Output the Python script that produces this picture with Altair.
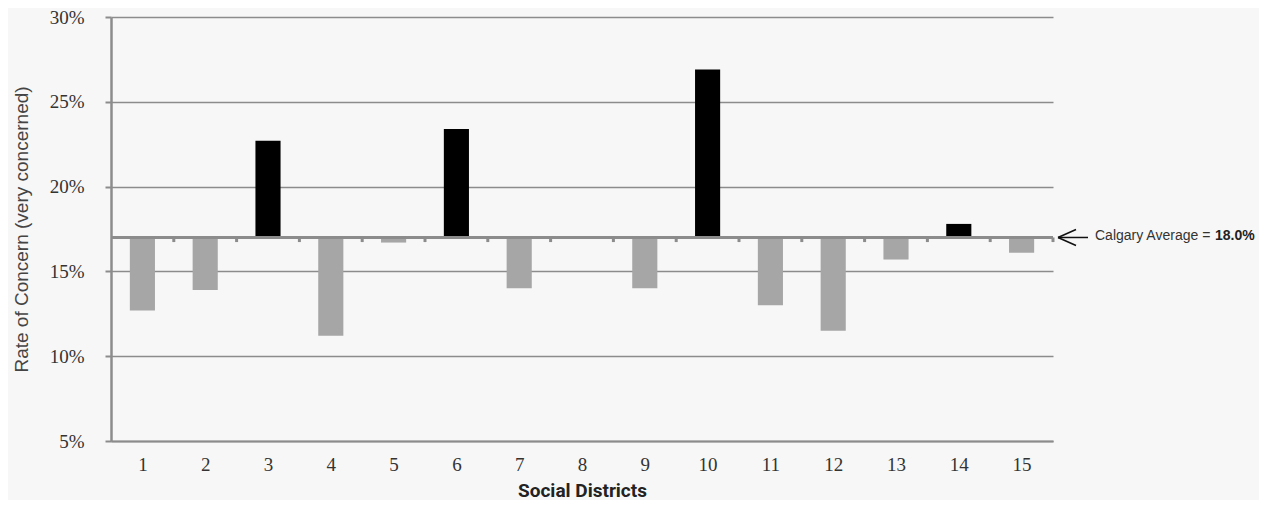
import altair as alt
import pandas as pd

districts = list(range(1, 16))
rates = [12.7, 13.9, 22.7, 11.2, 16.7, 23.4, 14.0, 17.0, 14.0, 26.9, 13.0, 11.5, 15.7, 17.8, 16.1]
baseline_value = 17.0
average_text = "Calgary Average ="
average_label = "18.0%"
y_ticks = [5, 10, 15, 20, 25, 30]

df = pd.DataFrame({"district": districts, "rate": rates})
df["above"] = df["rate"] > baseline_value
bounds = pd.DataFrame({"b": [d + 0.5 for d in districts]})
one = pd.DataFrame({"k": [0]})

x_scale = alt.Scale(domain=[0.5, 15.5], nice=False, zero=False)
y_scale = alt.Scale(domain=[5, 30], nice=False, zero=False)

x_axis = alt.Axis(
    title="Social Districts", values=districts, format="d", ticks=False, grid=False,
    labelFont="Liberation Serif", labelFontSize=19, labelColor="#333333", labelPadding=14,
    domainColor="#8c8c8c", domainWidth=2,
    titleFont="Roboto", titleFontWeight="bold", titleFontSize=19,
    titleColor="#222222", titlePadding=7,
)
y_axis = alt.Axis(
    title="Rate of Concern (very concerned)", values=y_ticks,
    labelExpr="datum.value + '%'",
    labelFont="Liberation Serif", labelFontSize=19, labelColor="#333333", labelPadding=21,
    tickSize=6, tickColor="#8c8c8c", tickWidth=2,
    grid=True, gridColor="#8c8c8c", gridWidth=1.5,
    domainColor="#8c8c8c", domainWidth=2.5,
    titleFont="Liberation Sans", titleFontSize=19, titleFontWeight="normal",
    titleColor="#444444", titlePadding=18,
)

bars = alt.Chart(df).transform_calculate(
    x0="datum.district - 0.2", x1="datum.district + 0.2"
).mark_bar().encode(
    x=alt.X("x0:Q", scale=x_scale, axis=x_axis),
    x2="x1:Q",
    y=alt.Y("rate:Q", scale=y_scale, axis=y_axis),
    y2=alt.datum(baseline_value),
    color=alt.condition("datum.above", alt.value("#000000"), alt.value("#a6a6a6")),
)

base_rule = alt.Chart(one).mark_rule(color="#8c8c8c", strokeWidth=3).encode(
    x=alt.datum(0.5, scale=x_scale), x2=alt.datum(15.5),
    y=alt.datum(baseline_value, scale=y_scale),
)

ticks = alt.Chart(bounds).mark_rule(color="#8c8c8c", strokeWidth=3).encode(
    x=alt.X("b:Q", scale=x_scale),
    y=alt.datum(baseline_value, scale=y_scale),
    y2=alt.datum(baseline_value - 0.27),
)

arrow_shaft = alt.Chart(one).mark_rule(color="#111111", strokeWidth=1.5, xOffset=5, x2Offset=35).encode(
    x=alt.datum(15.5, scale=x_scale), x2=alt.datum(15.5),
    y=alt.datum(baseline_value, scale=y_scale),
)
arrow_up = alt.Chart(one).mark_rule(color="#111111", strokeWidth=1.5, xOffset=5, x2Offset=23, y2Offset=-8).encode(
    x=alt.datum(15.5, scale=x_scale), x2=alt.datum(15.5),
    y=alt.datum(baseline_value, scale=y_scale), y2=alt.datum(baseline_value),
)
arrow_dn = alt.Chart(one).mark_rule(color="#111111", strokeWidth=1.5, xOffset=5, x2Offset=23, y2Offset=8).encode(
    x=alt.datum(15.5, scale=x_scale), x2=alt.datum(15.5),
    y=alt.datum(baseline_value, scale=y_scale), y2=alt.datum(baseline_value),
)

label_txt = alt.Chart(one).mark_text(
    align="left", baseline="middle", dx=42, dy=-1, font="Liberation Sans", fontSize=14, color="#333333"
).encode(
    x=alt.datum(15.5, scale=x_scale), y=alt.datum(baseline_value, scale=y_scale),
    text=alt.value(average_text),
)
label_bold = alt.Chart(one).mark_text(
    align="left", baseline="middle", dx=162, dy=-1, font="Liberation Sans", fontSize=14,
    fontWeight="bold", color="#222222"
).encode(
    x=alt.datum(15.5, scale=x_scale), y=alt.datum(baseline_value, scale=y_scale),
    text=alt.value(average_label),
)

chart = alt.layer(
    bars, base_rule, ticks, arrow_shaft, arrow_up, arrow_dn, label_txt, label_bold
).properties(
    width=942, height=424,
    autosize=alt.AutoSizeParams(type="none"),
    padding={"left": 103, "top": 9, "right": 206, "bottom": 59},
    background="#f7f7f7",
).configure_view(stroke=None)

chart.save("out.html", embed_options={"renderer": "svg", "actions": False})
